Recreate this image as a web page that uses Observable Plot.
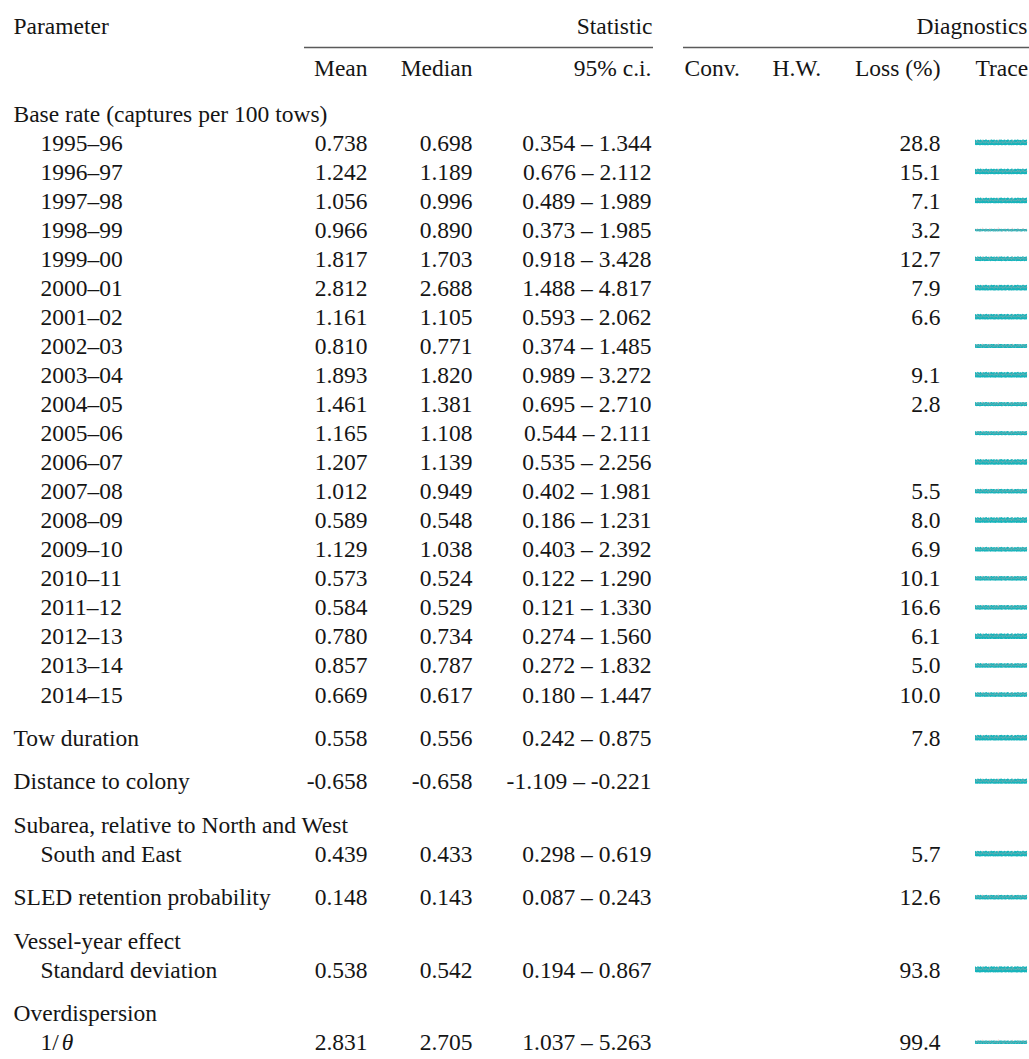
<!DOCTYPE html>
<html>
<head>
<meta charset="utf-8">
<script src="https://cdn.jsdelivr.net/npm/d3@7"></script>
<script src="https://cdn.jsdelivr.net/npm/@observablehq/plot@0.6"></script>
<style>
  html, body { margin: 0; padding: 0; background: #fff; }
  #chart { width: 1029px; height: 1059px; overflow: hidden; }
  #chart svg, #chart svg text { font-family: "Liberation Serif", "Times New Roman", Times, serif !important; }
</style>
</head>
<body>
<div id="chart"></div>
<script>
// ---------------- DATA ----------------
const years = ["1995–96","1996–97","1997–98","1998–99","1999–00","2000–01","2001–02","2002–03","2003–04","2004–05",
               "2005–06","2006–07","2007–08","2008–09","2009–10","2010–11","2011–12","2012–13","2013–14","2014–15"];
const baseMean   = [0.738,1.242,1.056,0.966,1.817,2.812,1.161,0.810,1.893,1.461,1.165,1.207,1.012,0.589,1.129,0.573,0.584,0.780,0.857,0.669];
const baseMedian = [0.698,1.189,0.996,0.890,1.703,2.688,1.105,0.771,1.820,1.381,1.108,1.139,0.949,0.548,1.038,0.524,0.529,0.734,0.787,0.617];
const baseLo     = [0.354,0.676,0.489,0.373,0.918,1.488,0.593,0.374,0.989,0.695,0.544,0.535,0.402,0.186,0.403,0.122,0.121,0.274,0.272,0.180];
const baseHi     = [1.344,2.112,1.989,1.985,3.428,4.817,2.062,1.485,3.272,2.710,2.111,2.256,1.981,1.231,2.392,1.290,1.330,1.560,1.832,1.447];
const baseLoss   = [28.8,15.1,7.1,3.2,12.7,7.9,6.6,null,9.1,2.8,null,null,5.5,8.0,6.9,10.1,16.6,6.1,5.0,10.0];
// visual thickness of each trace (px)
const baseTraceAmp = [2,2,2,0.8,1.6,2,2,1.4,2,1.4,1.4,2,1.6,2,1.6,1.6,1.6,2,1.6,1.6];

const otherGroups = ["Tow duration","Distance to colony","Subarea, relative to North and West",
                     "SLED retention probability","Vessel-year effect","Overdispersion"];
const otherLabels = [null,null,"South and East",null,"Standard deviation","1/θ"];
const otherMean   = [0.558,-0.658,0.439,0.148,0.538,2.831];
const otherMedian = [0.556,-0.658,0.433,0.143,0.542,2.705];
const otherLo     = [0.242,-1.109,0.298,0.087,0.194,1.037];
const otherHi     = [0.875,-0.221,0.619,0.243,0.867,5.263];
const otherLoss   = [7.8,null,5.7,12.6,93.8,99.4];
const otherTraceAmp = [2,1.8,2,1.6,2.2,1.2];

const headerTop = ["Parameter","Statistic","Diagnostics"];
const headerCols = ["Mean","Median","95% c.i.","Conv.","H.W.","Loss (%)","Trace"];
const baseGroupTitle = "Base rate (captures per 100 tows)";

// hand-drawn trace shapes (two chains, relative units)
const chainA = [0.9,-0.7,0.4,-1.0,0.8,-0.5,1.0,-0.8,0.3,-0.9,0.7,-0.6,0.9,-1.0,0.5,-0.7,0.8,-0.4,1.0,-0.9,
                0.6,-0.8,0.9,-0.5,0.7,-1.0,0.4,-0.6,0.9,-0.8,1.0,-0.7,0.5,-0.9,0.8,-0.6,0.7,-1.0,0.9,-0.4,
                0.6,-0.8,1.0,-0.7,0.3,-0.9,0.8,-0.6,0.9,-1.0,0.5,-0.8,0.7,-0.5,1.0,-0.9,0.6,-0.7,0.8,-1.0];
const chainB = [0.2,-0.3,0.9,-0.2,0.4,-0.5,0.1,-0.3,1.3,-0.1,0.3,-0.4,0.6,-0.2,0.2,-0.6,1.1,-0.3,0.4,-0.1,
                0.2,-0.5,0.8,-0.2,0.3,-0.4,1.4,-0.3,0.1,-0.2,0.5,-0.6,0.3,-0.1,0.9,-0.4,0.2,-0.3,0.7,-0.2,
                0.4,-0.5,1.2,-0.1,0.3,-0.4,0.2,-0.3,0.8,-0.2,0.5,-0.6,0.3,-0.1,1.0,-0.4,0.2,-0.3,0.6,-0.2];

// ---------------- LAYOUT ----------------
const W = 1029, H = 1059;
const FS = 23.5;
const FONT = '"Liberation Serif", "Times New Roman", Times, serif';
const L = {
  labelX: 13, indentX: 40,
  meanR: 367, medianR: 472, ciR: 651,
  convL: 684, hwL: 772, lossR: 940, traceL: 975, traceR: 1027,
  statLine: [304, 653], diagLine: [683, 1029],
  topY: 33, lineY: 47, colY: 75, firstY: 121, step: 29.05, gap: 43.4, traceDy: -7
};

// ---------------- BUILD ROWS ----------------
const f3 = d3.format(".3f");
const fmt = v => (v < 0 ? "-" + f3(-v) : f3(v));
const rows = [];
let y = L.firstY;
rows.push({y, label: baseGroupTitle, indent: false});
years.forEach((yr, i) => {
  y += L.step;
  rows.push({y, label: yr, indent: true, mean: baseMean[i], median: baseMedian[i],
             lo: baseLo[i], hi: baseHi[i], loss: baseLoss[i], amp: baseTraceAmp[i]});
});
otherGroups.forEach((g, i) => {
  y += L.gap;
  const vals = {mean: otherMean[i], median: otherMedian[i], lo: otherLo[i], hi: otherHi[i],
                loss: otherLoss[i], amp: otherTraceAmp[i]};
  if (otherLabels[i] == null) {
    rows.push({y, label: g, indent: false, ...vals});
  } else {
    rows.push({y, label: g, indent: false});
    y += L.step;
    rows.push({y, label: otherLabels[i], indent: true, ...vals});
  }
});
const valueRows = rows.filter(r => r.mean != null);
const labelRows = rows.filter(r => r.label !== "1/θ");
const thetaRow = rows.find(r => r.label === "1/θ");

// traces: core band with jagged top (chain A) + faint second chain (chain B)
const band = [], traceB = [];
valueRows.forEach((r, k) => {
  const n = chainA.length, c = r.y + L.traceDy;
  chainA.forEach((v, i) => {
    const x = L.traceL + i * (L.traceR - L.traceL) / (n - 1);
    const w = chainA[(i + 7) % n];
    band.push({id: k, x, top: c - r.amp - 1.6 * Math.abs(v) * (r.amp / 2), bot: c + r.amp * 0.8 + 0.6 * Math.abs(w)});
  });
  chainB.forEach((v, i) => traceB.push({id: k, x: L.traceL + i * (L.traceR - L.traceL) / (n - 1),
                                         y: c - r.amp * 0.6 - 2 * v}));
});

const ink = "#151515";
const textOpts = {fontSize: FS, fontFamily: FONT, fill: ink, lineAnchor: "bottom"};

const chart = Plot.plot({
  width: W, height: H, margin: 0,
  x: {domain: [0, W], range: [0, W], axis: null},
  y: {domain: [0, H], range: [0, H], axis: null},
  style: {fontFamily: FONT, fontSize: FS + "px", background: "#fff", color: ink},
  marks: [
    // top header
    Plot.text([headerTop[0]], {x: L.labelX, y: L.topY, text: d => d, textAnchor: "start", ...textOpts}),
    Plot.text([headerTop[1]], {x: L.statLine[1] - 1, y: L.topY, text: d => d, textAnchor: "end", ...textOpts}),
    Plot.text([headerTop[2]], {x: L.diagLine[1] - 2, y: L.topY, text: d => d, textAnchor: "end", ...textOpts}),
    Plot.ruleY([{a: L.statLine[0], b: L.statLine[1]}, {a: L.diagLine[0], b: L.diagLine[1]}],
               {y: () => L.lineY, x1: "a", x2: "b", stroke: "#5a5a5a", strokeWidth: 1.6}),
    // column headers (right-aligned group)
    Plot.text(headerCols.filter((d, i) => [0,1,2,5].includes(i)), {
      x: (d, i) => [L.meanR, L.medianR, L.ciR, L.lossR][i],
      y: () => L.colY, text: d => d, textAnchor: "end", ...textOpts,
    }),
    // column headers (left-aligned group)
    Plot.text(headerCols.filter((d, i) => [3,4,6].includes(i)), {
      x: (d, i) => [L.convL, L.hwL, L.traceL][i],
      y: () => L.colY, text: d => d, textAnchor: "start", ...textOpts,
    }),
    // labels
    Plot.text(labelRows, {x: r => r.indent ? L.indentX : L.labelX, y: "y", text: "label", textAnchor: "start", ...textOpts}),
    Plot.text([thetaRow], {x: L.indentX, y: "y", text: () => "1/", textAnchor: "start", ...textOpts}),
    Plot.text([thetaRow], {x: L.indentX + FS * 0.9, y: "y", text: () => "θ", textAnchor: "start", fontStyle: "italic", ...textOpts}),
    // values
    Plot.text(valueRows, {x: L.meanR, y: "y", text: r => fmt(r.mean), textAnchor: "end", ...textOpts}),
    Plot.text(valueRows, {x: L.medianR, y: "y", text: r => fmt(r.median), textAnchor: "end", ...textOpts}),
    Plot.text(valueRows, {x: L.ciR, y: "y", text: r => `${fmt(r.lo)} – ${fmt(r.hi)}`, textAnchor: "end", ...textOpts}),
    Plot.text(valueRows.filter(r => r.loss != null), {x: L.lossR, y: "y", text: r => r.loss.toFixed(1), textAnchor: "end", ...textOpts}),
    // traces
    Plot.area(band, {x1: "x", y1: "top", y2: "bot", z: "id", fill: "#16b4bb", curve: "linear"}),
    Plot.line(traceB, {x: "x", y: "y", z: "id", stroke: "#f4a0a0", strokeWidth: 0.7, strokeOpacity: 0.4, curve: "linear"})
  ]
});

document.getElementById("chart").appendChild(chart);
</script>
</body>
</html>
